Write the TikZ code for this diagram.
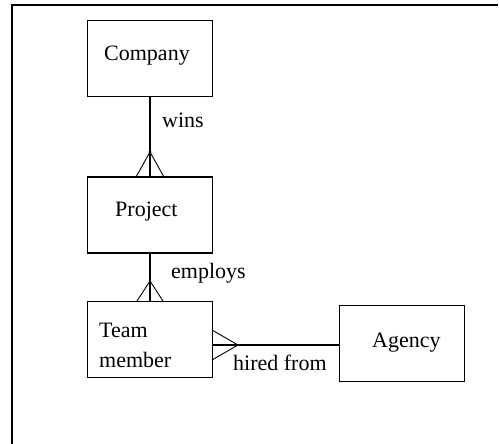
\documentclass[tikz,border=0pt]{standalone}
\usepackage{fontspec}
\setmainfont{Liberation Serif}
\begin{document}
\begin{tikzpicture}[x=1pt,y=-1pt,
  entity/.style={draw=black, line width=1.4pt, minimum width=125pt, minimum height=76pt, inner sep=0pt},
  txt/.style={anchor=base west, inner sep=0pt, font=\fontsize{22}{26}\selectfont},
  rel/.style={line width=1.2pt},
  foot/.style={line width=0.9pt},
  frame/.style={line width=1.8pt}]
\useasboundingbox (0,0) rectangle (499,444);
% frame
\coordinate (fa) at (12,444);
\coordinate (fb) at (12,5);
\coordinate (fc) at (498,5);
\draw[frame] (fa) -- (fb) -- (fc);
% entities
\node[entity] (company) at (150,58.5) {};
\node[entity] (project) at (150,215) {};
\node[entity] (team) at (150,339.5) {};
\node[entity] (agency) at (402,343.5) {};
% texts
\node[txt] (tcompany) at (104,61) {Company};
\node[txt] (tproject) at (115,217) {Project};
\node[txt] (tteam) at (99,337) {Team};
\node[txt] (tmember) at (99,367) {member};
\node[txt] (tagency) at (372,347) {Agency};
\node[txt] (twins) at (162,128) {wins};
\node[txt] (temploys) at (171,278) {employs};
\node[txt] (thired) at (233,370) {hired from};
% connectors
\coordinate (a1) at (150,152);
\coordinate (l1) at (136,177);
\coordinate (r1) at (164,177);
\draw[rel] (company.south) -- (project.north);
\draw[foot] (l1) -- (a1) -- (r1);
\fill (a1) circle (1.6pt);
\coordinate (a2) at (150,281);
\coordinate (l2) at (137,301);
\coordinate (r2) at (163,301);
\draw[rel] (project.south) -- (team.north);
\draw[foot] (l2) -- (a2) -- (r2);
\coordinate (a3) at (238,345);
\coordinate (u3) at (212,330);
\coordinate (d3) at (212,360);
\draw[rel] (team.east |- a3) -- (agency.west |- a3);
\draw[foot] (u3) -- (a3) -- (d3);
\end{tikzpicture}
\end{document}
